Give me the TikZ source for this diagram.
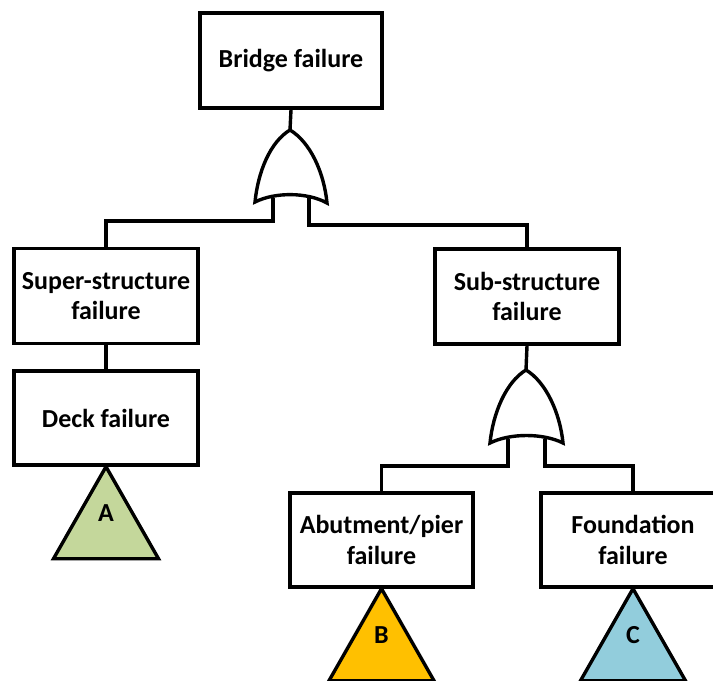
\documentclass[tikz,border=0pt]{standalone}
\usepackage{fontspec}
\setmainfont{Carlito}
\usetikzlibrary{calc}
\definecolor{triA}{HTML}{C4D79B}
\definecolor{triB}{HTML}{FFC000}
\definecolor{triC}{HTML}{92CDDC}
\begin{document}
\begin{tikzpicture}[x=0.02cm,y=-0.02cm,
  line width=0.068cm, line join=miter,
  event/.style={draw, fill=white, minimum width=3.68cm, minimum height=1.9cm,
    inner sep=0pt, align=center, font=\fontsize{14.8}{17.4}\selectfont\bfseries},
  tri/.style={draw, line join=miter},
  trilabel/.style={font=\fontsize{14.8}{16}\selectfont\bfseries, inner sep=0pt},
  wire/.style={draw}]
\useasboundingbox (0,0) rectangle (713,680);
\clip (0,0) rectangle (713,680);

% events
\node[event, minimum width=3.64cm] (top) at (291,60.5) {Bridge failure};
\node[event] (super) at (106,296) {Super-structure\\failure};
\node[event, minimum height=1.88cm] (deck) at (106,418) {Deck failure};
\node[event] (sub) at (527,296.5) {Sub-structure\\failure};
\node[event, minimum width=3.66cm, minimum height=1.88cm] (abut) at (381.5,540) {Abutment/pier\\failure};
\node[event, minimum height=1.88cm] (found) at (633,540) {Foundation\\failure};

% OR gate under the top event
\coordinate (g1) at (290,130);
\coordinate (g1l) at (273,198);
\coordinate (g1r) at (309,198);
\draw (g1) .. controls (270,142) and (258,172) .. (255,202)
      .. controls (275,192) and (307,192) .. (327,203)
      .. controls (324,172) and (310,142) .. (g1) -- cycle;
\draw[wire] (top.south) -- (g1);
\draw[wire] (g1l) -- (273,221) -| (super.north);
\draw[wire] (g1r) -- (309,225) -| (sub.north);

% OR gate under the sub-structure event
\coordinate (g2) at (526,370);
\coordinate (g2l) at (508,439);
\coordinate (g2r) at (545,439);
\draw (g2) .. controls (506,382) and (493,413) .. (490,443)
      .. controls (510,433) and (543,433) .. (563,443)
      .. controls (560,413) and (546,382) .. (g2) -- cycle;
\draw[wire] (sub.south) -- (g2);
\draw[wire] (g2l) -- (508,466) -| (abut.north);
\draw[wire] (g2r) -- (545,466) -| (found.north);

% super-structure to deck
\draw[wire] (super.south) -- (deck.north);

% transfer triangles
\draw[tri, fill=triA] (deck.south) -- ++(52.5,92) -- ++(-105,0) -- cycle;
\node[trilabel] (ta) at ($(deck.south)+(0,46)$) {A};
\draw[tri, fill=triB] (abut.south) -- ++(52.5,92) -- ++(-105,0) -- cycle;
\node[trilabel] (tb) at ($(abut.south)+(0,46)$) {B};
\draw[tri, fill=triC] (found.south) -- ++(52.5,92) -- ++(-105,0) -- cycle;
\node[trilabel] (tc) at ($(found.south)+(0,46)$) {C};
\end{tikzpicture}
\end{document}
